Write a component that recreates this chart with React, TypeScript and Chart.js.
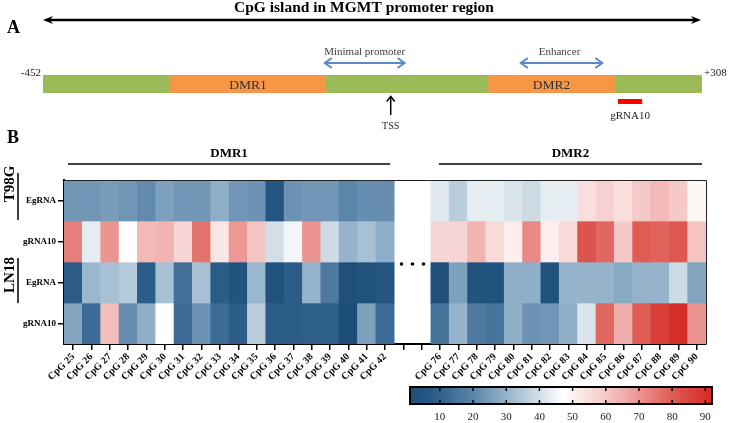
import React, { useEffect, useRef } from 'react';
import { Chart, registerables } from 'chart.js';
Chart.register(...registerables);

const FONT = "'Liberation Serif', 'Times New Roman', serif";

// ---------- Panel A data (positions in bp) ----------
const islandRange = [-452, 308];
const islandEndLabels = ['-452', '+308'];
const dmrNames = ['DMR1', 'DMR2'];
const dmrStarts = [-305, 62];
const dmrEnds = [-126, 207];
const tssPosition = -51;
const gRNA10Range = [211, 239];
const minimalPromoterRange = [-127, -35];
const enhancerRange = [99, 193];

// ---------- Panel B data ----------
const cpgLabels = [
  'CpG 25', 'CpG 26', 'CpG 27', 'CpG 28', 'CpG 29', 'CpG 30', 'CpG 31', 'CpG 32', 'CpG 33',
  'CpG 34', 'CpG 35', 'CpG 36', 'CpG 37', 'CpG 38', 'CpG 39', 'CpG 40', 'CpG 41', 'CpG 42',
  '', '',
  'CpG 76', 'CpG 77', 'CpG 78', 'CpG 79', 'CpG 80', 'CpG 81', 'CpG 82', 'CpG 83', 'CpG 84',
  'CpG 85', 'CpG 86', 'CpG 87', 'CpG 88', 'CpG 89', 'CpG 90',
];
const rowLabels = ['EgRNA', 'gRNA10', 'EgRNA', 'gRNA10'];
const cellLineNames = ['T98G', 'LN18'];
const regionGroupNames = ['DMR1', 'DMR2'];
const regionGroupFirst = [0, 20];
const regionGroupLast = [17, 34];

const t98gEgRNA = [
  24, 24, 25, 24, 21, 26, 24, 24, 29, 24, 23, 5, 23, 24, 24, 20, 22, 22,
  null, null,
  42, 36, 43, 43, 41, 39, 43, 43, 55, 58, 55, 60, 63, 60, 49,
];
const t98gGRNA10 = [
  74, 43, 70, 47, 63, 64, 57, 76, 53, 69, 61, 40, 45, 70, 39, 30, 33, 29,
  null, null,
  57, 57, 64, 56, 51, 72, 51, 56, 82, 78, 60, 80, 79, 81, 61,
];
const ln18EgRNA = [
  8, 31, 33, 35, 8, 33, 14, 33, 8, 4, 31, 3, 8, 30, 17, 2, 3, 5,
  null, null,
  2, 26, 4, 3, 29, 29, 3, 30, 30, 30, 28, 30, 30, 39, 27,
];
const ln18GRNA10 = [
  27, 13, 62, 22, 29, 47, 13, 23, 13, 8, 36, 8, 8, 9, 9, 1, 26, 13,
  null, null,
  15, 30, 17, 15, 29, 23, 24, 29, 41, 78, 65, 80, 87, 91, 70,
];

const colorbarTicks = [10, 20, 30, 40, 50, 60, 70, 80, 90];
const colorMin = 1;
const colorMax = 92;
const colorStopValues = [1, 10, 20, 30, 40, 47, 60, 70, 80, 92];
const colorStopColors = ['#1d4e7a', '#2f618c', '#5b85a9', '#95b3ca', '#d3dfe8', '#ffffff', '#f5c9c7', '#eb9491', '#df5c55', '#d42a22'];

function hexToRgb(h: string) {
  return [parseInt(h.slice(1, 3), 16), parseInt(h.slice(3, 5), 16), parseInt(h.slice(5, 7), 16)];
}
function colorFor(v: number) {
  const vals = colorStopValues;
  if (v <= vals[0]) return colorStopColors[0];
  for (let i = 1; i < vals.length; i++) {
    if (v <= vals[i]) {
      const t = (v - vals[i - 1]) / (vals[i] - vals[i - 1]);
      const a = hexToRgb(colorStopColors[i - 1]);
      const b = hexToRgb(colorStopColors[i]);
      const c = a.map((x, k) => Math.round(x + (b[k] - x) * t));
      return `rgb(${c[0]},${c[1]},${c[2]})`;
    }
  }
  return colorStopColors[colorStopColors.length - 1];
}

function filledHead(ctx: CanvasRenderingContext2D, x: number, y: number, dir: number) {
  ctx.beginPath();
  ctx.moveTo(x, y);
  ctx.lineTo(x - dir * 10, y - 4);
  ctx.lineTo(x - dir * 7, y);
  ctx.lineTo(x - dir * 10, y + 4);
  ctx.closePath();
  ctx.fill();
}
function chevronH(ctx: CanvasRenderingContext2D, x: number, y: number, dir: number) {
  ctx.beginPath();
  ctx.moveTo(x - dir * 7, y - 5);
  ctx.lineTo(x, y);
  ctx.lineTo(x - dir * 7, y + 5);
  ctx.stroke();
}
function blueDoubleArrow(ctx: CanvasRenderingContext2D, x0: number, x1: number, y: number) {
  ctx.strokeStyle = '#5a8ac6';
  ctx.lineWidth = 2;
  ctx.beginPath();
  ctx.moveTo(x0 + 1, y);
  ctx.lineTo(x1 - 1, y);
  ctx.stroke();
  chevronH(ctx, x0, y, -1);
  chevronH(ctx, x1, y, 1);
}

const panelAPlugin = {
  id: 'panelA',
  afterDatasetsDraw(chart: any) {
    const { ctx, chartArea } = chart;
    const xs = chart.scales.x;
    const px = (v: number) => xs.getPixelForValue(v);
    ctx.save();
    ctx.fillStyle = '#000';
    ctx.textBaseline = 'middle';
    // Title
    ctx.font = `bold 15.5px ${FONT}`;
    ctx.textAlign = 'center';
    ctx.fillText('CpG island in MGMT promoter region', 364, 8);
    // Panel letter
    ctx.font = `bold 18px ${FONT}`;
    ctx.textAlign = 'left';
    ctx.fillText('A', 7, 28);
    // Big double arrow
    const ax0 = px(islandRange[0]);
    const ax1 = px(islandRange[1]) - 1;
    ctx.strokeStyle = '#000';
    ctx.lineWidth = 2.5;
    ctx.beginPath();
    ctx.moveTo(ax0 + 6, 20);
    ctx.lineTo(ax1 - 6, 20);
    ctx.stroke();
    filledHead(ctx, ax0, 20, -1);
    filledHead(ctx, ax1, 20, 1);
    // End labels
    ctx.font = `11px ${FONT}`;
    ctx.fillStyle = '#222';
    ctx.textAlign = 'right';
    ctx.fillText(islandEndLabels[0], px(islandRange[0]) - 2, 73);
    ctx.textAlign = 'left';
    ctx.fillText(islandEndLabels[1], px(islandRange[1]) + 2, 73);
    // DMR names
    ctx.font = `13.5px ${FONT}`;
    ctx.fillStyle = '#333';
    ctx.textAlign = 'center';
    const midY = (chartArea.top + chartArea.bottom) / 2 + 1;
    dmrNames.forEach((n, i) => ctx.fillText(n, (px(dmrStarts[i]) + px(dmrEnds[i])) / 2, midY));
    // Blue arrows
    ctx.font = `11px ${FONT}`;
    ctx.fillStyle = '#404040';
    const mp0 = px(minimalPromoterRange[0]);
    const mp1 = px(minimalPromoterRange[1]);
    blueDoubleArrow(ctx, mp0, mp1, 63);
    ctx.fillText('Minimal promoter', (mp0 + mp1) / 2, 52);
    const en0 = px(enhancerRange[0]);
    const en1 = px(enhancerRange[1]);
    blueDoubleArrow(ctx, en0, en1, 63);
    ctx.fillText('Enhancer', (en0 + en1) / 2 - 2, 52);
    // TSS arrow
    const tx = px(tssPosition);
    ctx.strokeStyle = '#000';
    ctx.lineWidth = 1.5;
    ctx.beginPath();
    ctx.moveTo(tx, 115);
    ctx.lineTo(tx, 96.5);
    ctx.stroke();
    ctx.beginPath();
    ctx.moveTo(tx - 4, 101.5);
    ctx.lineTo(tx, 96.5);
    ctx.lineTo(tx + 4, 101.5);
    ctx.stroke();
    ctx.fillStyle = '#222';
    ctx.font = `10px ${FONT}`;
    ctx.fillText('TSS', tx, 126);
    // gRNA10
    const g0 = px(gRNA10Range[0]);
    const g1 = px(gRNA10Range[1]);
    ctx.fillStyle = '#ff0000';
    ctx.fillRect(g0, 99, g1 - g0, 5);
    ctx.fillStyle = '#222';
    ctx.font = `11px ${FONT}`;
    ctx.fillText('gRNA10', (g0 + g1) / 2, 116);
    ctx.restore();
  },
};

const CB = { left: 410, right: 712, top: 257, bottom: 274 };

const panelBPlugin = {
  id: 'panelB',
  afterDraw(chart: any) {
    const { ctx, chartArea } = chart;
    const xs = chart.scales.x;
    const ys = chart.scales.y;
    const colW = xs.getPixelForValue(1) - xs.getPixelForValue(0);
    ctx.save();
    // border top/right
    ctx.strokeStyle = '#222';
    ctx.lineWidth = 1;
    ctx.beginPath();
    ctx.moveTo(chartArea.left, chartArea.top + 0.5);
    ctx.lineTo(chartArea.right + 0.5, chartArea.top + 0.5);
    ctx.lineTo(chartArea.right + 0.5, chartArea.bottom);
    ctx.stroke();
    // Letter B
    ctx.fillStyle = '#000';
    ctx.textBaseline = 'middle';
    ctx.textAlign = 'left';
    ctx.font = `bold 18px ${FONT}`;
    ctx.fillText('B', 7, 8);
    // Region headers
    ctx.font = `bold 13px ${FONT}`;
    ctx.textAlign = 'center';
    ctx.strokeStyle = '#000';
    ctx.lineWidth = 1.5;
    regionGroupNames.forEach((name, i) => {
      const inset0 = i === 0 ? 4 : 8;
      const x0 = xs.getPixelForValue(regionGroupFirst[i]) - colW / 2 + inset0;
      const x1 = xs.getPixelForValue(regionGroupLast[i]) + colW / 2 - 4;
      const ly = chartArea.top - 16;
      ctx.beginPath();
      ctx.moveTo(x0, ly);
      ctx.lineTo(x1, ly);
      ctx.stroke();
      ctx.fillText(name, (x0 + x1) / 2, chartArea.top - 26);
    });
    // Cell line labels
    const groups = [
      { top: ys.getPixelForValue(0) - 7, bottom: ys.getPixelForValue(1) - 1, text: cellLineNames[0], ty: ys.getPixelForValue(0) + 4 },
      { top: ys.getPixelForValue(2) - 4, bottom: ys.getPixelForValue(3), text: cellLineNames[1], ty: ys.getPixelForValue(2) + 13 },
    ];
    ctx.font = `bold 15px ${FONT}`;
    groups.forEach((g) => {
      ctx.beginPath();
      ctx.moveTo(18, g.top);
      ctx.lineTo(18, g.bottom);
      ctx.stroke();
      ctx.save();
      ctx.translate(10, g.ty);
      ctx.rotate(-Math.PI / 2);
      ctx.textAlign = 'center';
      ctx.fillText(g.text, 0, 0);
      ctx.restore();
    });
    // dots
    const dx = (xs.getPixelForValue(18) + xs.getPixelForValue(19)) / 2;
    const dy = ys.getPixelForValue(2) + 2;
    [-11, 0, 11].forEach((o) => {
      ctx.beginPath();
      ctx.arc(dx + o, dy, 1.8, 0, Math.PI * 2);
      ctx.fill();
    });
    // colorbar
    const vx = (v: number) => CB.left + ((v - colorMin) / (colorMax - colorMin)) * (CB.right - CB.left);
    const grad = ctx.createLinearGradient(CB.left, 0, CB.right, 0);
    colorStopValues.forEach((v, i) => grad.addColorStop((v - colorMin) / (colorMax - colorMin), colorStopColors[i]));
    ctx.fillStyle = grad;
    ctx.fillRect(CB.left, CB.top, CB.right - CB.left, CB.bottom - CB.top);
    ctx.strokeStyle = '#000';
    ctx.lineWidth = 2;
    ctx.strokeRect(CB.left, CB.top, CB.right - CB.left, CB.bottom - CB.top);
    ctx.lineWidth = 1.5;
    ctx.fillStyle = '#222';
    ctx.font = `11px ${FONT}`;
    ctx.textAlign = 'center';
    colorbarTicks.forEach((t) => {
      const x = vx(t);
      ctx.beginPath();
      ctx.moveTo(x, CB.top);
      ctx.lineTo(x, CB.top + 4);
      ctx.moveTo(x, CB.bottom);
      ctx.lineTo(x, CB.bottom - 4);
      ctx.stroke();
      ctx.fillText(String(t), x, CB.bottom + 13);
    });
    ctx.restore();
  },
};

export default function App() {
  const refA = useRef<HTMLCanvasElement>(null);
  const refB = useRef<HTMLCanvasElement>(null);

  useEffect(() => {
    document.body.style.margin = '0';
    const chartA = new Chart(refA.current as HTMLCanvasElement, {
      type: 'bar',
      data: {
        labels: ['island'],
        datasets: [
          { label: 'island', data: [[islandRange[0], islandRange[1]]] as any, backgroundColor: '#9bbb59', order: 2 },
          ...dmrNames.map((n, i) => ({
            label: n,
            data: [[dmrStarts[i], dmrEnds[i]]] as any,
            backgroundColor: '#f79646',
            order: 1,
          })),
        ],
      },
      options: {
        indexAxis: 'y',
        animation: false,
        responsive: false,
        events: [],
        layout: { padding: { left: 43, right: 27, top: 75, bottom: 37 } },
        plugins: { legend: { display: false }, tooltip: { enabled: false } },
        scales: {
          x: { type: 'linear', min: islandRange[0], max: islandRange[1], display: false },
          y: { display: false },
        },
        datasets: { bar: { grouped: false, barPercentage: 1, categoryPercentage: 1, borderWidth: 0 } as any },
      } as any,
      plugins: [panelAPlugin],
    });

    const rows = [t98gEgRNA, t98gGRNA10, ln18EgRNA, ln18GRNA10];
    const chartB = new Chart(refB.current as HTMLCanvasElement, {
      type: 'bar',
      data: {
        labels: cpgLabels,
        datasets: rows.map((vals, r) => ({
          label: rowLabels[r],
          data: vals.map((v) => (v == null ? null : [r, r + 1])) as any,
          backgroundColor: vals.map((v) => (v == null ? 'rgba(0,0,0,0)' : colorFor(v))),
          borderWidth: 0,
        })),
      },
      options: {
        animation: false,
        responsive: false,
        events: [],
        layout: { padding: { left: 0, right: 23, top: 50, bottom: 0 } },
        plugins: { legend: { display: false }, tooltip: { enabled: false } },
        datasets: { bar: { grouped: false, barPercentage: 1, categoryPercentage: 1 } as any },
        scales: {
          x: {
            type: 'category',
            offset: true,
            grid: { display: true, drawOnChartArea: false, offset: false, drawTicks: true, tickLength: 6, color: '#000', lineWidth: 1.5 },
            border: { display: true, color: '#000', width: 2 },
            ticks: {
              autoSkip: false,
              maxRotation: 45,
              minRotation: 45,
              padding: 1,
              color: '#000',
              font: { family: FONT, size: 10, weight: 'bold' },
            },
            afterFit: (s: any) => {
              s.height = 79;
            },
          },
          y: {
            type: 'linear',
            min: 0,
            max: 4,
            reverse: true,
            afterBuildTicks: (s: any) => {
              s.ticks = rowLabels.map((_, i) => ({ value: i + 0.5 }));
            },
            ticks: {
              callback: (_v: any, i: number) => rowLabels[i],
              padding: 2,
              color: '#000',
              font: { family: FONT, size: 9, weight: 'bold' },
            },
            grid: { drawOnChartArea: false, drawTicks: true, tickLength: 6, color: '#000', lineWidth: 1.5 },
            border: { display: true, color: '#000', width: 2 },
            afterFit: (s: any) => {
              s.width = 64;
            },
          },
        },
      } as any,
      plugins: [panelBPlugin],
    });

    return () => {
      chartA.destroy();
      chartB.destroy();
    };
  }, []);

  return (
    <div style={{ position: 'absolute', left: 0, top: 0, width: 729, height: 423, background: '#fff' }}>
      <canvas ref={refA} width={729} height={130} style={{ position: 'absolute', left: 0, top: 0, width: 729, height: 130 }} />
      <canvas ref={refB} width={729} height={293} style={{ position: 'absolute', left: 0, top: 130, width: 729, height: 293 }} />
    </div>
  );
}
